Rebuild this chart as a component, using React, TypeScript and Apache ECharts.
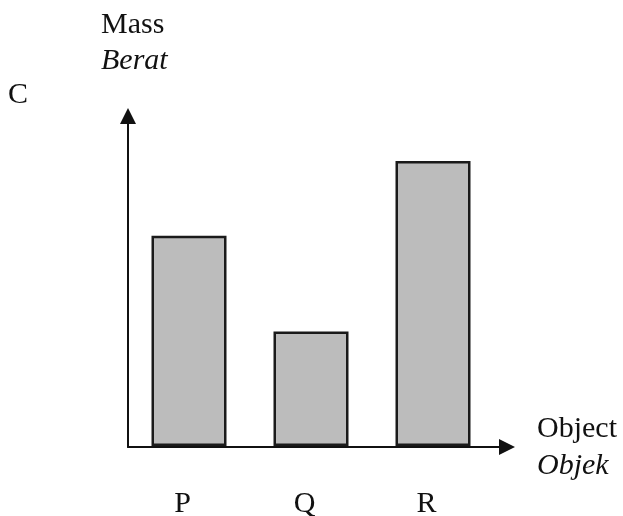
import React, { useEffect, useRef } from "react";
import * as echarts from "echarts";

const categories = ["P", "Q", "R"];
const massValues = [6.37, 3.47, 8.64];
const yMax = 10;

const serif = "Liberation Serif";

export default function App() {
  const ref = useRef<HTMLDivElement>(null);
  useEffect(() => {
    if (!ref.current) return;
    const chart = echarts.init(ref.current, undefined, { renderer: "svg" });
    const axisLineStyle = { color: "#111", width: 2 };
    const txt = (x: number, y: number, text: string, italic = false) => ({
      type: "text",
      x,
      y,
      style: {
        text,
        font: (italic ? "italic " : "") + "30px " + serif,
        fill: "#111",
        verticalAlign: "middle",
      },
    });
    chart.setOption({
      animation: false,
      grid: [
        { left: 128, right: 129, top: 116, bottom: 69 },
        { left: 128, right: 116, top: 116, bottom: 69 },
      ],
      xAxis: [
        {
          type: "category",
          gridIndex: 0,
          data: categories,
          axisLine: { show: false },
          axisTick: { show: false },
          axisLabel: {
            fontFamily: serif,
            fontSize: 30,
            color: "#111",
            verticalAlign: "middle",
            margin: 55,
            padding: [0, 13, 0, 0],
          },
        },
        {
          type: "value",
          gridIndex: 1,
          min: 0,
          max: 1,
          axisLine: {
            show: true,
            lineStyle: axisLineStyle,
            symbol: ["none", "triangle"],
            symbolSize: [16, 16],
          },
          axisTick: { show: false },
          axisLabel: { show: false },
          splitLine: { show: false },
        },
      ],
      yAxis: [
        {
          type: "value",
          gridIndex: 0,
          min: 0,
          max: yMax,
          axisLine: { show: false },
          axisTick: { show: false },
          axisLabel: { show: false },
          splitLine: { show: false },
        },
        {
          type: "value",
          gridIndex: 1,
          min: 0,
          max: 1,
          axisLine: {
            show: true,
            onZero: false,
            lineStyle: axisLineStyle,
            symbol: ["none", "triangle"],
            symbolSize: [16, 16],
          },
          axisTick: { show: false },
          axisLabel: { show: false },
          splitLine: { show: false },
        },
      ],
      series: [
        {
          type: "bar",
          xAxisIndex: 0,
          yAxisIndex: 0,
          data: massValues,
          barWidth: 75,
          itemStyle: {
            color: "#bcbcbc",
            borderColor: "#1a1a1a",
            borderWidth: 2.5,
          },
        },
      ],
      graphic: [
        txt(101, 22, "Mass"),
        txt(101, 58, "Berat", true),
        txt(8, 92, "C"),
        txt(537, 426, "Object"),
        txt(537, 463, "Objek", true),
      ],
    });
    return () => chart.dispose();
  }, []);
  return <div ref={ref} style={{ position: "fixed", left: 0, top: 0, width: 623, height: 516 }} />;
}
